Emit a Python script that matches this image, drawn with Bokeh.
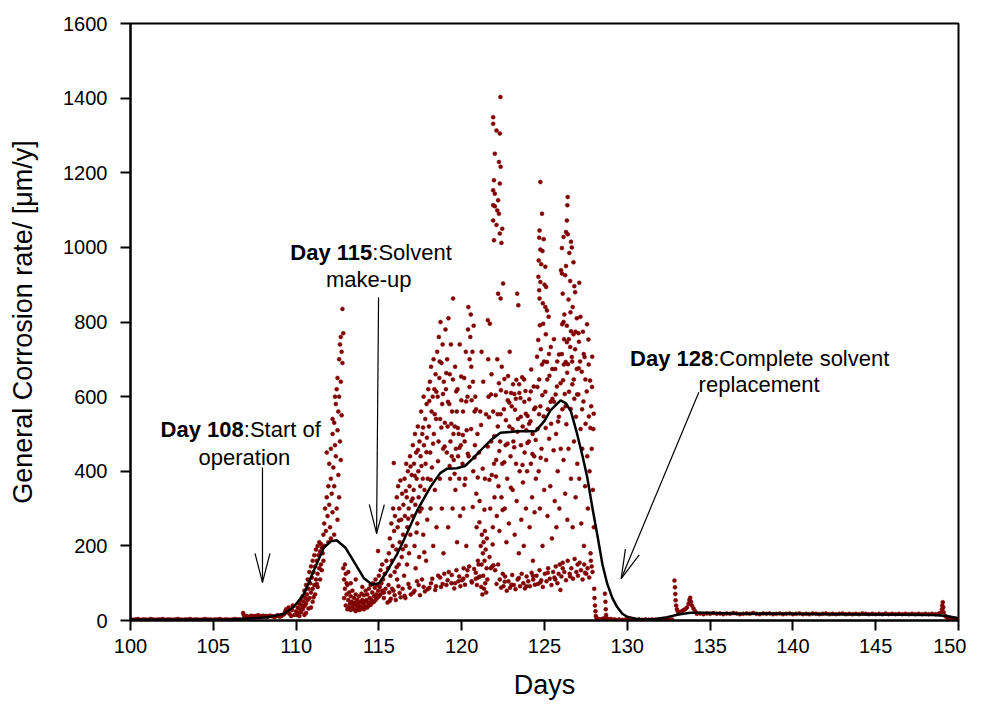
import math
from bokeh.plotting import figure
from bokeh.models import FixedTicker, ColumnDataSource
from bokeh.core.properties import value
from bokeh.embed import file_html
from bokeh.resources import INLINE

# ---------------- data ----------------
x_ticks = [100, 105, 110, 115, 120, 125, 130, 135, 140, 145, 150]
y_ticks = [0, 200, 400, 600, 800, 1000, 1200, 1400, 1600]

pre_start = [(100.0,3),(100.15,2),(100.3,3),(100.45,4),(100.6,2),(100.75,3),(100.9,3),(101.05,2),(101.2,4),(101.35,3),
             (101.5,2),(101.65,3),(101.8,3),(101.95,4),(102.1,2),(102.25,3),(102.4,3),(102.55,2),(102.7,3),(102.85,4),
             (103.0,3),(103.15,2),(103.3,3),(103.45,3),(103.6,4),(103.75,2),(103.9,3),(104.05,3),(104.2,2),(104.35,3),
             (104.5,4),(104.65,3),(104.8,3),(104.95,2),(105.1,3),(105.25,3),(105.4,4),(105.55,2),(105.7,3),(105.85,3),
             (106.0,2),(106.15,3),(106.3,4),(106.45,3),(106.6,3),(106.75,2),(106.9,3)]

start_up = [(106.8,20),(106.85,14),(106.9,10),(107.0,12),(107.1,9),(107.2,11),(107.3,13),(107.4,10),(107.5,12),(107.6,11),
            (107.7,14),(107.8,12),(107.9,10),(108.0,13),(108.1,11),(108.2,12),(108.3,10),(108.4,13),(108.5,12),(108.6,11),
            (108.7,9),(108.8,12),(108.9,14),(109.0,10),(109.1,12),(109.2,15),(109.3,18),(109.35,25),(109.4,30),(109.5,22),
            (109.55,35),(109.6,18),(109.7,12),(109.75,28),(109.8,40),(109.9,15)]

first_rise = [(110.0,25),(110.05,15),(110.1,35),(110.15,20),(110.2,45),(110.25,30),(110.3,55),(110.3,22),(110.35,40),(110.4,65),
              (110.4,30),(110.45,50),(110.5,80),(110.5,38),(110.55,60),(110.6,95),(110.6,45),(110.65,70),(110.7,110),(110.7,55),
              (110.75,85),(110.8,130),(110.8,60),(110.85,100),(110.9,145),(110.9,75),(110.95,115),(111.0,160),(111.0,85),(111.05,130),
              (111.1,175),(111.1,95),(111.15,145),(111.2,190),(111.2,110),(111.25,160),(111.3,200),(111.3,125),(111.35,175),(111.4,210),
              (111.4,140),(111.45,185),(111.5,205),(111.5,150),(111.55,195),(111.6,180),(111.65,160),(111.7,200),(110.9,35),(111.0,50),
              (111.15,70),(110.6,20),(111.3,90),(111.45,110),(110.2,12),(110.5,15),(110.75,32),(111.05,62),(111.25,98),(111.55,135)]

first_spike = [(111.65,230),(111.7,260),(111.75,300),(111.8,240),(111.85,330),(111.9,280),(111.95,360),(112.0,310),(112.0,420),(112.05,250),
               (112.1,380),(112.1,460),(112.15,340),(112.2,500),(112.2,290),(112.25,410),(112.3,530),(112.3,360),(112.35,470),(112.4,580),
               (112.4,440),(112.45,620),(112.5,510),(112.5,650),(112.55,390),(112.55,560),(112.6,700),(112.6,600),(112.65,740),(112.65,480),
               (112.7,760),(112.7,640),(112.75,720),(112.8,835),(112.8,690),(112.75,550),(112.85,770),(112.1,220),(112.3,230),(112.5,270),
               (111.95,210),(112.6,330),(112.45,300),(112.2,540),(112.35,600),(111.85,450),(112.7,430)]

dip = [(112.85,140),(112.9,110),(112.9,60),(112.95,85),(113.0,40),(113.0,125),(113.05,70),(113.1,30),(113.1,95),(113.15,55),
       (113.2,35),(113.2,75),(113.25,45),(113.3,28),(113.3,65),(113.35,50),(113.4,35),(113.4,80),(113.45,42),(113.5,30),
       (113.5,60),(113.55,48),(113.6,25),(113.6,70),(113.65,40),(113.7,32),(113.7,55),(113.75,45),(113.8,28),(113.8,65),
       (113.85,38),(113.9,50),(113.9,30),(113.95,72),(114.0,35),(114.0,55),(114.05,45),(114.1,30),(114.1,68),(114.15,50),
       (114.2,38),(114.2,80),(114.25,55),(114.3,35),(114.3,70),(114.35,48),(114.4,40),(114.4,85),(114.45,60),(114.5,42),
       (114.5,95),(114.55,55),(114.6,48),(114.6,75),(114.65,100),(114.7,50),(114.7,65),(114.75,88),(114.8,55),(114.8,110),
       (114.85,70),(114.9,60),(114.9,95),(114.95,80),(115.0,65),(115.0,120),(115.05,90),(115.1,70),(115.1,135),(115.15,100),
       (115.2,80),(115.2,150),(115.25,110),(115.3,75),(115.3,60),(115.35,125),(115.4,85),(115.45,160),(113.05,100),(113.15,130),
       (112.95,150),(113.6,110),(114.0,90),(113.3,100),(114.95,186)]

main_a = [(115.52,48),(115.55,140),(115.58,95),(115.6,180),(115.63,75),(115.66,220),(115.7,120),(115.72,58),(115.75,260),(115.78,160),
          (115.8,85),(115.83,200),(115.86,300),(115.88,80),(115.9,422),(115.92,240),(115.95,130),(115.97,280),
          (116.02,55),(116.05,190),(116.08,330),(116.1,110),(116.13,250),(116.16,360),(116.18,92),(116.2,150),(116.23,300),(116.26,210),
          (116.3,375),(116.32,62),(116.35,270),(116.38,170),(116.4,340),(116.43,85),(116.46,230),(116.48,310),
          (116.52,120),(116.55,380),(116.57,280),(116.6,60),(116.62,200),(116.65,420),(116.68,330),(116.7,150),(116.72,250),(116.75,400),
          (116.78,98),(116.8,300),(116.82,180),(116.85,360),(116.88,440),(116.9,230),(116.93,70),(116.96,320),(116.98,390),
          (117.02,280),(117.05,470),(117.08,75),(117.1,350),(117.12,420),(117.15,200),(117.18,500),(117.2,310),(117.22,140),(117.25,450),
          (117.28,380),(117.3,105),(117.32,260),(117.35,520),(117.38,400),(117.4,330),(117.43,170),(117.45,480),(117.48,68),(117.5,360),
          (117.52,440),(117.55,560),(117.58,300),(117.6,110),(117.62,500),(117.65,380),(117.68,230),(117.7,600),(117.72,470),(117.75,350),
          (117.78,78),(117.8,540),(117.82,420),(117.85,160),(117.88,580),(117.9,490),(117.92,270),(117.95,380),(117.98,620)]

low_band = [(115.65,52),(115.95,68),(116.25,74),(116.55,66),(116.85,88),(117.15,80),(117.4,95),(117.7,90),(117.95,84),(118.15,100),
            (118.45,92),(118.7,115),(118.85,98),(119.15,108),(119.4,122),(119.6,100),(119.85,118),(120.1,112),(120.35,135),(120.6,105),
            (120.85,128),(121.0,115),(122.6,104),(123.0,96),(123.45,114),(123.9,92),(124.3,120),(124.75,102),(125.2,128),(125.65,110),
            (126.1,140),(126.55,118),(127.0,150),(127.45,128),(127.85,145)]

main_b = [(118.02,520),(118.05,88),(118.08,640),(118.1,450),(118.12,300),(118.15,680),(118.18,560),(118.2,410),(118.22,112),(118.25,600),
          (118.28,200),(118.3,700),(118.32,500),(118.35,620),(118.38,350),(118.4,82),(118.42,660),(118.45,540),(118.48,250),
          (118.52,720),(118.55,600),(118.58,120),(118.6,480),(118.62,760),(118.65,650),(118.68,380),(118.7,540),(118.72,800),(118.75,90),
          (118.78,690),(118.8,300),(118.82,580),(118.85,740),(118.88,460),(118.9,180),(118.92,640),(118.95,125),(118.98,530),
          (119.02,780),(119.05,620),(119.08,95),(119.1,450),(119.12,700),(119.15,520),(119.18,250),(119.2,810),(119.22,130),(119.25,580),
          (119.28,660),(119.3,380),(119.32,480),(119.35,740),(119.38,100),(119.4,440),(119.42,560),(119.45,300),(119.48,863),(119.5,500),
          (119.52,430),(119.55,86),(119.58,520),(119.6,680),(119.62,350),(119.65,460),(119.68,135),(119.7,560),(119.72,210),(119.75,620),
          (119.78,440),(119.8,105),(119.82,500),(119.85,380),(119.88,740),(119.9,280),(119.92,92),(119.95,470),(119.98,590)]

main_c = [(120.02,108),(120.05,420),(120.08,560),(120.1,300),(120.12,140),(120.15,650),(120.18,480),(120.2,96),(120.22,380),(120.25,720),
          (120.28,200),(120.3,510),(120.32,120),(120.35,600),(120.38,780),(120.4,840),(120.42,440),(120.45,145),(120.48,700),
          (120.52,760),(120.55,820),(120.58,680),(120.6,590),(120.62,102),(120.65,720),(120.68,640),(120.7,400),(120.72,790),(120.75,138),
          (120.78,560),(120.8,470),(120.82,600),(120.85,112),(120.88,340),(120.9,250),(120.92,95),(120.95,500),(120.98,160),
          (121.02,150),(121.05,450),(121.08,320),(121.1,118),(121.12,560),(121.15,200),(121.18,90),(121.2,150),(121.22,230),(121.25,70),
          (121.28,180),(121.3,120),(121.32,210),(121.35,85),(121.38,160),(121.4,240),(121.42,100),(121.45,190),(121.48,75),(121.5,140),
          (121.3,640),(121.4,380),(121.2,720),
          (121.52,220),(121.55,110),(121.58,805),(121.6,700),(121.62,600),(121.65,545),(121.68,170),(121.7,795),(121.72,300),(121.75,140),
          (121.78,480),(121.8,660),(121.82,390),(121.85,145),(121.88,250),(121.9,560),(121.92,148),(121.95,420),(121.98,330)]

spike_122 = [(122.34,1403),(121.9,1349),(121.9,1331),(122.1,1313),(122.3,1305),(122.0,1251),(122.25,1229),(122.35,1216),(121.95,1180),(122.3,1171),
             (121.9,1153),(122.0,1144),(122.2,1126),(121.9,1113),(122.0,1110),(122.15,1099),(122.25,1090),(121.9,1072),(122.1,1060),(122.45,1050),
             (122.3,1037),(121.95,1019),(122.4,1012),(122.5,903),(122.2,876),(122.35,863)]

main_d = [(122.02,135),(122.05,604),(122.08,430),(122.1,98),(122.12,280),(122.15,700),(122.18,520),(122.2,150),(122.22,360),(122.25,636),
          (122.28,240),(122.3,110),(122.32,480),(122.35,553),(122.38,88),(122.4,330),(122.42,680),(122.45,420),(122.48,125),
          (122.52,92),(122.55,566),(122.58,647),(122.6,300),(122.62,118),(122.65,470),(122.68,612),(122.7,210),(122.72,80),(122.75,380),
          (122.78,590),(122.8,655),(122.82,105),(122.85,260),(122.88,520),(122.9,720),(122.92,88),(122.95,440),(122.98,610),
          (123.02,574),(123.05,122),(123.08,350),(123.1,633),(123.12,480),(123.15,95),(123.18,607),(123.2,230),(123.22,565),(123.25,84),
          (123.28,420),(123.3,645),(123.32,320),(123.35,876),(123.38,110),(123.4,540),(123.42,845),(123.45,180),(123.48,610),(123.5,400),
          (123.52,92),(123.55,596),(123.58,470),(123.6,270),(123.62,125),(123.65,652),(123.68,520),(123.7,370),(123.72,100),(123.75,200),
          (123.78,586),(123.8,450),(123.82,86),(123.85,615),(123.88,300),(123.9,510),(123.92,118),(123.95,400),(123.98,548),
          (124.02,105),(124.05,480),(124.08,593),(124.1,250),(124.12,92),(124.15,534),(124.18,420),(124.2,673),(124.22,128),(124.25,330),
          (124.28,500),(124.3,160),(124.32,110),(124.35,627),(124.38,440),(124.4,290),(124.42,96),(124.45,571),(124.48,380)]

spike_125 = [(124.75,1175),(124.85,1090),(124.7,1045),(124.68,1026),(124.95,1022),(124.75,994),(124.88,990),(124.65,965),(124.8,955),(125.05,948),
             (124.63,921),(124.75,907),(125.0,900),(125.1,894),(124.68,885),(124.7,863),(124.9,850),(125.05,840),(125.15,831),(124.72,791)]

main_e = [(124.52,120),(124.55,707),(124.58,513),(124.6,98),(124.62,752),(124.65,400),(124.68,646),(124.7,135),(124.72,300),(124.75,574),
          (124.78,727),(124.8,108),(124.82,460),(124.85,686),(124.88,200),(124.9,90),(124.92,795),(124.95,547),(124.98,350),
          (125.02,125),(125.05,613),(125.08,767),(125.1,430),(125.12,105),(125.15,693),(125.18,280),(125.2,566),(125.22,140),(125.25,814),
          (125.28,487),(125.3,656),(125.32,112),(125.35,360),(125.38,733),(125.4,527),(125.42,95),(125.45,220),(125.48,594),
          (125.52,130),(125.55,456),(125.58,586),(125.6,115),(125.62,320),(125.65,674),(125.68,145),(125.7,500),(125.72,250),(125.75,627),
          (125.78,100),(125.8,400),(125.82,533),(125.85,125),(125.88,713),(125.9,300),(125.92,150),(125.96,82),(125.98,460)]

spike_126 = [(126.4,1135),(126.38,1113),(126.35,1072),(126.3,1041),(126.4,1035),(126.15,1028),(126.6,1015),(126.05,998),(126.5,985),(126.75,960),
             (126.0,939),(126.25,925),(126.55,910),(126.8,896),(126.1,876),(126.45,860),(126.7,840),(126.2,820),(126.95,810),(126.35,790),
             (126.6,775),(127.05,770),(126.05,930),(126.85,880),(126.3,950),(126.65,1000),(127.1,905),(126.15,800)]

main_f = [(126.02,118),(126.05,714),(126.08,566),(126.1,155),(126.12,644),(126.15,430),(126.18,754),(126.2,130),(126.22,607),(126.25,340),
          (126.28,693),(126.3,108),(126.32,526),(126.35,746),(126.38,270),(126.4,160),(126.42,687),(126.45,460),(126.48,613),
          (126.52,125),(126.55,733),(126.58,567),(126.6,380),(126.62,140),(126.65,706),(126.68,633),(126.7,250),(126.72,112),(126.75,767),
          (126.78,480),(126.8,594),(126.82,165),(126.85,727),(126.88,330),(126.9,546),(126.92,130),(126.95,674),(126.98,420),
          (127.02,120),(127.05,606),(127.08,747),(127.1,380),(127.12,155),(127.15,694),(127.18,513),(127.2,135),(127.22,260),(127.25,667),
          (127.28,460),(127.3,110),(127.32,774),(127.35,587),(127.38,200),(127.4,150),(127.42,706),(127.45,360),(127.48,527),
          (127.52,125),(127.55,614),(127.58,440),(127.6,140),(127.62,300),(127.65,753),(127.68,547),(127.7,115),(127.72,400),(127.75,643),
          (127.78,180),(127.8,160),(127.82,574),(127.85,460),(127.88,707),(127.9,130),(127.92,350),(127.95,513),(127.98,250)]

extra_cloud = [(116.07,143),(116.21,268),(116.44,191),(116.63,347),(116.77,273),(116.91,413),(117.04,327),(117.17,388),(117.27,236),(117.36,457),
               (117.47,292),(117.57,414),(117.67,517),(117.74,183),(117.87,451),(118.04,588),(118.13,377),(118.27,474),(118.37,553),(118.47,613),
               (118.57,427),(118.67,694),(118.77,517),(118.87,607),(118.97,466),(119.07,663),(119.17,586),(119.27,414),(119.37,527),(119.47,646),
               (119.57,393),(119.67,614),(119.77,516),(119.87,463),(119.97,654),(120.07,497),(120.17,363),(120.27,587),(120.37,447),(120.47,626),
               (120.57,513),(120.67,304),(120.77,437),(120.87,566),(120.97,383),(121.07,263),(121.17,524),(121.27,407),(121.37,297),(121.47,553),
               (121.57,466),(121.67,377),(121.77,606),(121.87,204),(121.97,494),(122.07,386),(122.17,553),(122.27,454),(122.37,617),(122.47,296),
               (122.57,424),(122.67,537),(122.77,474),(122.87,584),(122.97,356),(123.07,513),(123.17,464),(123.27,594),(123.37,506),(123.47,633),
               (123.57,546),(123.67,417),(123.77,646),(123.87,554),(123.97,476),(124.07,527),(124.17,614),(124.27,446),(124.37,566),(124.47,484),
               (124.57,626),(124.67,553),(124.77,436),(124.87,604),(124.97,694),(125.07,516),(125.17,646),(125.27,714),(125.37,586),(125.47,674),
               (125.57,754),(125.67,606),(125.77,694),(125.87,546),(125.97,636),(126.07,794),(126.17,686),(126.27,574),(126.37,664),(126.47,754),
               (126.57,826),(126.67,694),(126.77,646),(126.87,774),(126.97,606),(127.07,676),(127.17,814),(127.27,566),(127.37,714),(127.47,646),
               (127.57,794),(127.67,686),(127.77,516),(127.87,626),(127.97,554)]

replacement_drop = [(128.0,85),(128.02,60),(128.05,40),(128.08,25),(128.1,12),(128.15,6),(128.2,4),(128.3,3),(128.4,3),(128.5,4),
                    (128.6,6),(128.65,72),(128.68,50),(128.7,30),(128.72,15),(128.8,5),(128.9,2),(129.0,4),(129.1,2),(129.2,3)]

after_low = [(129.3,2),(129.5,3),(129.7,2),(129.9,3),(130.1,2),(130.3,3),(130.5,2),(130.7,3),(130.9,2),(131.1,3),
             (131.3,2),(131.5,3),(131.7,2),(131.9,3),(132.1,2),(132.3,3),(132.5,4),(132.7,3)]

bump_133 = [(132.85,107),(132.88,89),(132.9,71),(132.92,54),(132.95,40),(133.0,30),(133.05,24),(133.1,20),(133.2,22),(133.3,25),
            (133.4,28),(133.5,30),(133.6,35),(133.7,45),(133.75,55),(133.8,61),(133.85,50),(133.9,40),(134.0,32),(134.1,25)]

steady = [(134.2,18),(134.4,19),(134.6,17),(134.8,19),(135.0,18),(135.2,20),(135.4,18),(135.6,19),(135.8,17),(136.0,19),
          (136.2,18),(136.4,20),(136.6,19),(136.8,17),(137.0,18),(137.2,19),(137.4,18),(137.6,20),(137.8,18),(138.0,17),
          (138.2,19),(138.4,18),(138.6,19),(138.8,17),(139.0,18),(139.2,19),(139.4,17),(139.6,18),(139.8,19),(140.0,17),
          (140.2,18),(140.4,19),(140.6,17),(140.8,18),(141.0,17),(141.2,19),(141.4,18),(141.6,17),(141.8,18),(142.0,19),
          (142.2,17),(142.4,18),(142.6,17),(142.8,18),(143.0,19),(143.2,17),(143.4,18),(143.6,17),(143.8,18),(144.0,17),
          (144.2,19),(144.4,18),(144.6,17),(144.8,18),(145.0,17),(145.2,18),(145.4,17),(145.6,19),(145.8,17),(146.0,18),
          (146.2,17),(146.4,18),(146.6,17),(146.8,18),(147.0,17),(147.2,18),(147.4,17),(147.6,18),(147.8,17),(148.0,18),
          (148.2,17),(148.4,18),(148.6,17),(148.8,18)]

end_part = [(148.9,20),(149.0,30),(149.02,40),(149.05,49),(149.08,35),(149.1,22),(149.2,12),(149.3,8),(149.4,6),(149.5,5),
            (149.6,4),(149.7,5),(149.8,4),(149.9,3),(150.0,3)]

trend_x = [100, 103, 106, 107.5, 108.3, 109.26, 109.86, 110.47, 111.07, 111.67, 112.1, 112.45, 112.98, 113.3, 113.69,
           114.1, 114.6, 115.0, 115.5, 116.1, 116.5, 117.31, 118.1, 118.7, 119.12, 119.7, 120.2, 120.7, 121.34, 121.8,
           122.34, 123.35, 124.46, 125.0, 125.36, 125.97, 126.3, 126.6, 126.97, 127.3, 127.58, 127.9, 128.18, 128.5, 128.79,
           129.1, 129.39, 129.7, 129.99, 130.5, 131.0, 131.7, 132.4, 133.1, 133.8, 134.5, 136.4, 142.5, 148.5, 149.3, 150]
trend_y = [2, 2, 3, 6, 9, 18, 36, 71, 134, 195, 212, 215, 195, 172, 143,
           113, 96, 100, 132, 178, 215, 295, 357, 395, 407, 408, 414, 435, 465, 485,
           503, 507, 507, 535, 563, 590, 582, 560, 500, 440, 384, 300, 232, 150, 98,
           60, 36, 18, 10, 5, 3, 4, 9, 16, 21, 21, 19, 17, 15, 12, 6]

ann_bold = ["Day 108", "Day 115", "Day 128"]
ann_rest = [":Start of", ":Solvent", ":Complete solvent"]
ann_x = [106.84, 114.6, 135.19]
ann_y = [512, 987, 702]
ann2_text = ["operation", "make-up", "replacement"]
ann2_x = [106.88, 114.39, 137.96]
ann2_y = [437, 913, 633]
arrows = [(107.97, 410, 107.97, 102), (114.98, 866, 114.86, 233), (134.32, 612, 129.63, 112)]

# ---------------- figure ----------------
p = figure(width=966, height=705, x_range=(100, 150), y_range=(0, 1600),
           output_backend="svg", toolbar_location=None,
           min_border_left=130, min_border_right=8, min_border_top=23, min_border_bottom=85)
p.grid.visible = False
p.outline_line_color = "black"
p.outline_line_width = 2
p.outline_line_alpha = 1
p.background_fill_color = "white"
p.border_fill_color = "white"

for ax in (p.xaxis[0], p.yaxis[0]):
    ax.axis_line_color = "black"
    ax.axis_line_width = 2
    ax.major_tick_line_color = "black"
    ax.major_tick_line_width = 2
    ax.major_tick_in = 0
    ax.major_tick_out = 10
    ax.minor_tick_line_color = None
    ax.major_label_text_font = "Liberation Sans"
    ax.major_label_text_font_size = "20px"
    ax.major_label_text_color = "black"
    ax.axis_label_text_font = "Liberation Sans"
    ax.axis_label_text_font_size = "27px"
    ax.axis_label_text_font_style = "normal"
    ax.axis_label_text_color = "black"

p.xaxis.ticker = FixedTicker(ticks=x_ticks)
p.yaxis.ticker = FixedTicker(ticks=y_ticks)
p.xaxis.axis_label = "Days"
p.yaxis.axis_label = "General Corrosion rate/ [\u03bcm/y]"
p.xaxis.major_label_standoff = 8
p.yaxis.major_label_standoff = 13
p.xaxis.axis_label_standoff = 14
p.yaxis.axis_label_standoff = 22

groups = [pre_start, start_up, first_rise, first_spike, dip, main_a, low_band, main_b, main_c, spike_122,
          main_d, spike_125, main_e, spike_126, main_f, extra_cloud, replacement_drop, after_low, bump_133, steady, end_part]
pts_x = [pt[0] for g in groups for pt in g]
pts_y = [pt[1] for g in groups for pt in g]
src = ColumnDataSource(data=dict(x=pts_x, y=pts_y))
p.scatter("x", "y", source=src, size=4, fill_color="#800000", line_color="#800000", line_width=0.5)

p.line(trend_x, trend_y, line_color="black", line_width=2.5)

# annotations
fnt = value("Liberation Sans")
p.text(x=ann_x, y=ann_y, text=ann_bold, text_font=fnt, text_font_size="22px", text_font_style="bold",
       text_align="right", text_baseline="alphabetic", text_color="black")
p.text(x=ann_x, y=ann_y, text=ann_rest, text_font=fnt, text_font_size="22px",
       text_align="left", text_baseline="alphabetic", text_color="black")
p.text(x=ann2_x, y=ann2_y, text=ann2_text, text_font=fnt, text_font_size="22px",
       text_align="center", text_baseline="alphabetic", text_color="black")

SX = 828 / 50.0
SY = 597 / 1600.0
sx0, sy0, sx1, sy1 = [], [], [], []
for (x0, y0, x1, y1) in arrows:
    sx0.append(x0); sy0.append(y0); sx1.append(x1); sy1.append(y1)
    dx = (x1 - x0) * SX
    dy = (y1 - y0) * SY
    L = math.hypot(dx, dy)
    ux, uy = dx / L, dy / L
    bx, by = -29 * ux, -29 * uy
    px_, py_ = -uy, ux
    for s in (1, -1):
        ex = bx + s * 7.5 * px_
        ey = by + s * 7.5 * py_
        sx0.append(x1); sy0.append(y1)
        sx1.append(x1 + ex / SX); sy1.append(y1 + ey / SY)
p.segment(x0=sx0, y0=sy0, x1=sx1, y1=sy1, line_color="black", line_width=1.2)

open("out.html", "w").write(file_html(p, INLINE))
